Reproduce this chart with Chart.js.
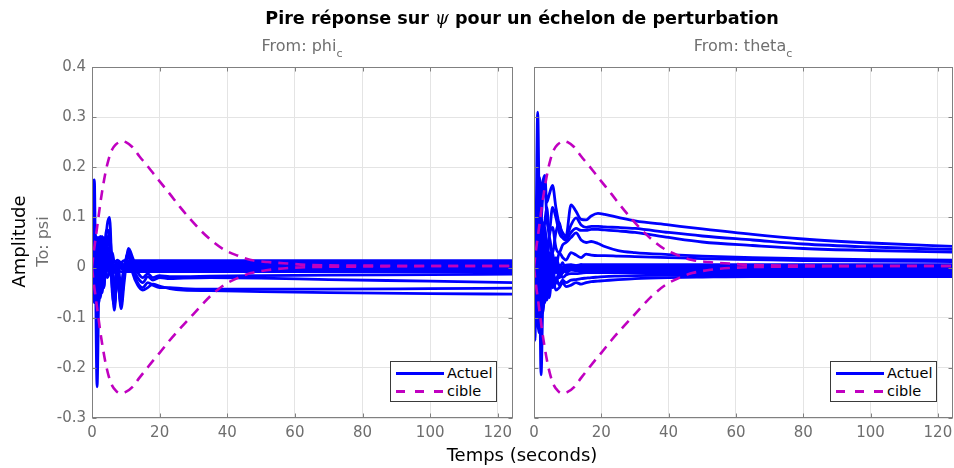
<!DOCTYPE html>
<html>
<head>
<meta charset="utf-8">
<script src="https://cdn.jsdelivr.net/npm/chart.js@4.4.1/dist/chart.umd.min.js"></script>
<style>
  html, body { margin:0; padding:0; background:#fff; }
  body { width:954px; height:468px; position:relative; overflow:hidden; font-family:"DejaVu Sans", sans-serif; }
  canvas { position:absolute; top:0; }
  .txt { position:absolute; white-space:nowrap; }
  .title { top:8px; left:0; width:1044px; text-align:center; font-size:17.6px; font-weight:bold; color:#000; }
  .title i { font-family:"DejaVu Serif", serif; font-weight:normal; }
  .sub { top:36px; font-size:16px; color:#707070; text-align:center; width:300px; }
  .sub sub { font-size:11px; vertical-align:-6px; }
  .ylab { font-size:18px; color:#000; transform:rotate(-90deg); transform-origin:center; }
  .ylab2 { font-size:16px; color:#707070; transform:rotate(-90deg); transform-origin:center; }
  .xlab { top:444px; left:0; width:1044px; text-align:center; font-size:18px; color:#000; }
  .legend { position:absolute; width:105px; height:39px; border:1px solid #3a3a3a; background:#fff; font-size:14.5px; color:#000; }
  .legend .row { position:absolute; left:0; height:18px; }
  .legend .smp { position:absolute; left:5px; width:48px; top:8px; height:3px; }
  .legend .lab { position:absolute; left:56px; top:0; line-height:18px; }
  .solid { background:#0000ff; }
  .dash { background:repeating-linear-gradient(90deg, #c000c0 0 9px, transparent 9px 19px); }
</style>
</head>
<body>
<canvas id="phiChart" width="520" height="468" style="left:0"></canvas>
<canvas id="thetaChart" width="434" height="468" style="left:520px"></canvas>

<div class="txt title">Pire réponse sur <i>ψ</i> pour un échelon de perturbation</div>
<div class="txt sub" style="left:152px">From: phi<sub>c</sub></div>
<div class="txt sub" style="left:593px">From: theta<sub>c</sub></div>
<div class="txt ylab" style="left:-32px; top:231px; width:100px; text-align:center">Amplitude</div>
<div class="txt ylab2" style="left:2px; top:232px; width:80px; text-align:center">To: psi</div>
<div class="txt xlab">Temps (seconds)</div>

<div class="legend" style="left:390px; top:361px">
  <div class="row" style="top:2px"><div class="smp solid"></div><div class="lab">Actuel</div></div>
  <div class="row" style="top:20px"><div class="smp dash"></div><div class="lab">cible</div></div>
</div>
<div class="legend" style="left:830px; top:361px">
  <div class="row" style="top:2px"><div class="smp solid"></div><div class="lab">Actuel</div></div>
  <div class="row" style="top:20px"><div class="smp dash"></div><div class="lab">cible</div></div>
</div>

<script>
// ── axis ranges / ticks ──
const X_MAX = 124.5;
const Y_MIN = -0.3, Y_MAX = 0.4;
const xTicks = [0, 20, 40, 60, 80, 100, 120];
const yTicks = [0.4, 0.3, 0.2, 0.1, 0, -0.1, -0.2, -0.3];

// ── target envelope (cible) ──
const cibleT     = [0, 0.5, 1, 1.5, 2, 2.5, 3, 4, 5, 6, 7, 8, 9, 10, 12, 14, 16, 18, 20, 23, 26, 29, 32, 35, 39, 43, 47, 52, 58, 65, 80, 100, 125];
const cibleUpper = [0, 0.03, 0.055, 0.08, 0.105, 0.13, 0.152, 0.19, 0.218, 0.236, 0.245, 0.25, 0.252, 0.25, 0.24, 0.222, 0.206, 0.189, 0.172, 0.147, 0.121, 0.097, 0.075, 0.056, 0.036, 0.024, 0.015, 0.011, 0.008, 0.005, 0.004, 0.003, 0.003];
const cibleLower = [0, -0.03, -0.055, -0.08, -0.105, -0.13, -0.152, -0.19, -0.218, -0.236, -0.245, -0.25, -0.25, -0.248, -0.238, -0.22, -0.203, -0.186, -0.17, -0.145, -0.122, -0.1, -0.078, -0.057, -0.035, -0.021, -0.011, -0.005, -0.001, 0.001, 0.002, 0.003, 0.003];

// ── From phi_c : time grid + responses ──
const timePhi = [0, 0.3, 0.7, 1, 1.5, 2, 2.5, 3, 3.5, 4, 4.5, 5.2, 6, 6.6, 7.5, 8.6, 9.5, 10.8, 12, 13.5, 15, 16.5, 18, 20, 23, 27, 35, 50, 70, 100, 125];
const phiResponses = [
  [0, 0.14, 0.175, 0.02, -0.238, -0.05, 0.04, 0.01, -0.02, 0.02, 0, -0.01, 0.01, 0, 0.004, 0.002, 0.004, 0.003, 0.003, 0.003, 0.003, 0.003, 0.003, 0.003, 0.003, 0.003, 0.003, 0.003, 0.003, 0.003, 0.003],
  [0, -0.02, -0.05, -0.04, 0.01, 0.05, 0.062, 0.01, -0.04, 0.04, 0.085, 0.1, -0.03, -0.085, -0.01, -0.082, -0.03, 0.038, 0.02, -0.005, 0.008, 0.004, 0.005, 0.005, 0.005, 0.005, 0.005, 0.005, 0.005, 0.005, 0.005],
  [0, -0.03, -0.07, -0.065, -0.02, 0.06, 0.05, 0.02, -0.03, 0.06, 0.075, 0.06, -0.05, -0.075, -0.02, -0.07, -0.015, 0.032, 0.015, 0, 0.01, 0.007, 0.008, 0.008, 0.008, 0.008, 0.008, 0.008, 0.008, 0.008, 0.008],
  [0, 0.02, -0.04, -0.07, -0.05, 0, 0.045, 0.062, 0, -0.02, 0.05, 0.065, 0, -0.045, 0.01, -0.035, 0, 0.025, 0.01, 0, 0.012, 0.01, 0.012, 0.012, 0.012, 0.012, 0.012, 0.012, 0.012, 0.012, 0.012],
  [0, 0.05, 0.02, -0.03, -0.06, -0.02, 0.03, 0.01, -0.02, 0.01, 0.02, 0.01, -0.01, 0, 0.01, 0, 0.005, 0.01, 0.01, 0.01, 0.01, 0.01, 0.01, 0.01, 0.01, 0.01, 0.01, 0.01, 0.01, 0.01, 0.01],
  [0, -0.05, -0.065, -0.03, 0.03, 0.04, 0, -0.03, 0, 0.02, 0.01, -0.01, 0, 0.005, 0, 0, 0, 0, 0, 0, 0, 0, 0, 0, 0, 0, 0, 0, 0, 0, 0],
  [0, 0.03, 0.06, 0.02, -0.04, -0.05, -0.01, 0.03, 0.02, -0.01, 0, 0.01, 0.005, -0.005, 0, -0.002, -0.004, -0.004, -0.004, -0.004, -0.004, -0.004, -0.004, -0.004, -0.004, -0.004, -0.004, -0.004, -0.004, -0.004, -0.004],
  [0, -0.01, 0.03, 0.05, 0, -0.07, -0.03, 0.02, 0.03, 0, -0.02, -0.01, 0, -0.01, -0.005, -0.008, -0.008, -0.008, -0.008, -0.008, -0.008, -0.008, -0.008, -0.008, -0.008, -0.008, -0.008, -0.008, -0.008, -0.008, -0.008],
  [0, 0, 0.05, 0.065, 0.03, -0.03, -0.06, 0, 0.06, 0.04, 0, 0.02, 0.03, 0.01, 0.015, 0.01, 0.014, 0.014, 0.014, 0.014, 0.014, 0.014, 0.014, 0.014, 0.014, 0.014, 0.014, 0.014, 0.014, 0.014, 0.014],
  [0, -0.04, -0.02, 0.03, 0.06, 0.02, -0.04, -0.05, 0, 0.03, 0, 0, 0.01, 0.005, 0.006, 0.006, 0.006, 0.006, 0.006, 0.006, 0.006, 0.006, 0.006, 0.006, 0.006, 0.006, 0.006, 0.006, 0.006, 0.006, 0.006],
  [0, 0, -0.03, -0.05, -0.02, 0.03, 0.02, -0.02, -0.04, 0, 0.03, 0.02, -0.02, -0.03, 0, 0.01, 0, -0.005, 0.005, -0.01, -0.02, -0.012, -0.02, -0.016, -0.018, -0.018, -0.017, -0.016, -0.015, -0.014, -0.013],
  [0, 0.01, -0.02, -0.06, -0.07, -0.02, 0.04, 0.03, -0.01, 0, 0.04, 0.03, -0.04, -0.06, -0.01, -0.04, 0, 0.02, 0, -0.02, -0.03, -0.018, -0.025, -0.02, -0.022, -0.021, -0.02, -0.021, -0.024, -0.027, -0.03],
  [0, -0.02, -0.05, -0.03, 0.02, 0.04, 0, -0.04, -0.02, 0.03, 0.06, 0.05, -0.02, -0.06, -0.005, -0.05, 0, 0.03, -0.005, -0.03, -0.04, -0.03, -0.035, -0.04, -0.04, -0.042, -0.043, -0.043, -0.043, -0.042, -0.041],
  [0, 0.02, 0, -0.04, -0.065, -0.03, 0.03, 0.05, 0, -0.01, 0.04, 0.05, -0.01, -0.07, -0.02, -0.075, -0.01, 0.03, -0.01, -0.035, -0.045, -0.04, -0.033, -0.037, -0.042, -0.045, -0.046, -0.048, -0.05, -0.052, -0.053]
];

// ── From theta_c : time grid + responses ──
const timeTheta = [0, 0.3, 0.7, 1.1, 1.6, 2.1, 2.6, 3.2, 3.8, 4.5, 5.5, 6.5, 7.5, 8.5, 9.5, 11, 12.5, 14, 15.5, 17, 19, 21, 25, 30, 40, 50, 65, 80, 100, 125];
const thetaResponses = [
  [0, -0.145, 0.12, 0.31, 0.06, -0.214, -0.07, 0.08, 0.03, -0.04, 0.02, -0.01, 0.005, 0, -0.004, -0.002, -0.004, -0.004, -0.005, -0.005, -0.005, -0.005, -0.005, -0.005, -0.005, -0.005, -0.005, -0.004, -0.004, -0.004],
  [0, 0.03, 0.1, 0.16, 0.18, 0.14, 0.17, 0.184, 0.13, 0.145, 0.164, 0.12, 0.085, 0.07, 0.062, 0.125, 0.112, 0.096, 0.095, 0.103, 0.108, 0.106, 0.1, 0.093, 0.085, 0.077, 0.066, 0.057, 0.049, 0.042],
  [0, -0.02, 0.05, 0.12, 0.16, 0.1, 0.14, 0.17, 0.1, 0.07, 0.12, 0.1, 0.07, 0.06, 0.06, 0.085, 0.099, 0.085, 0.08, 0.082, 0.082, 0.081, 0.08, 0.078, 0.07, 0.063, 0.055, 0.047, 0.041, 0.036],
  [0, 0.02, -0.04, 0.06, 0.15, 0.12, 0.05, 0.09, 0.12, 0.06, 0.03, 0.07, 0.09, 0.06, 0.055, 0.07, 0.078, 0.074, 0.074, 0.076, 0.076, 0.075, 0.073, 0.07, 0.06, 0.051, 0.044, 0.038, 0.034, 0.031],
  [0, 0.05, 0.1, -0.03, -0.08, 0.02, 0.09, 0.05, 0, 0.06, 0.08, 0.04, 0.03, 0.045, 0.05, 0.06, 0.069, 0.055, 0.05, 0.052, 0.048, 0.042, 0.034, 0.03, 0.026, 0.023, 0.02, 0.018, 0.016, 0.015],
  [0, -0.05, -0.1, -0.04, 0.05, 0.08, 0.02, -0.03, 0.03, 0.06, 0.02, 0, 0.03, 0.02, 0.015, 0.03, 0.025, 0.02, 0.027, 0.025, 0.024, 0.024, 0.023, 0.022, 0.02, 0.018, 0.016, 0.014, 0.013, 0.012],
  [0, 0.04, 0.08, 0, -0.1, -0.06, 0.04, 0.06, 0, -0.04, -0.01, 0.02, 0, -0.01, 0.005, 0.006, 0.004, 0.006, 0.006, 0.006, 0.006, 0.006, 0.006, 0.006, 0.006, 0.006, 0.006, 0.006, 0.006, 0.006],
  [0, -0.03, -0.09, -0.12, -0.05, 0.05, 0.08, 0.02, -0.05, -0.03, 0.02, 0.01, -0.02, -0.01, 0, 0.002, 0.002, 0.002, 0.002, 0.002, 0.002, 0.002, 0.002, 0.002, 0.002, 0.002, 0.002, 0.002, 0.002, 0.002],
  [0, 0.02, 0.05, 0.09, 0.1, 0.03, -0.06, -0.07, -0.01, 0.03, 0, -0.03, -0.01, 0, -0.01, -0.005, -0.006, -0.006, -0.006, -0.006, -0.006, -0.006, -0.006, -0.006, -0.006, -0.006, -0.006, -0.006, -0.006, -0.006],
  [0, -0.06, -0.02, 0.05, 0.03, -0.05, -0.09, -0.04, 0.03, 0.01, -0.04, -0.03, -0.01, -0.02, -0.015, -0.012, -0.012, -0.011, -0.01, -0.01, -0.01, -0.01, -0.01, -0.01, -0.01, -0.01, -0.01, -0.01, -0.01, -0.01],
  [0, 0.01, 0.03, -0.05, -0.09, -0.02, 0.03, -0.02, -0.065, -0.04, -0.02, -0.045, -0.04, -0.03, -0.038, -0.035, -0.03, -0.033, -0.03, -0.028, -0.027, -0.026, -0.024, -0.022, -0.02, -0.019, -0.018, -0.018, -0.018, -0.018],
  [0, -0.02, -0.06, -0.08, -0.02, 0.04, 0.01, -0.05, -0.03, 0.01, -0.03, -0.02, -0.035, -0.025, -0.03, -0.025, -0.024, -0.022, -0.021, -0.02, -0.019, -0.018, -0.017, -0.016, -0.015, -0.014, -0.014, -0.014, -0.014, -0.014],
  [0, 0.03, -0.02, -0.1, -0.13, -0.04, 0.06, 0.04, -0.02, -0.06, 0, 0.01, -0.02, 0, -0.005, -0.002, -0.002, -0.002, -0.002, -0.002, -0.002, -0.002, -0.002, -0.002, -0.002, -0.002, -0.002, -0.002, -0.002, -0.002],
  [0, 0, 0.04, 0.12, 0.08, -0.05, -0.08, 0, 0.05, 0, -0.03, 0.01, 0, -0.01, 0, 0.003, 0.004, 0.004, 0.004, 0.004, 0.004, 0.004, 0.004, 0.004, 0.004, 0.004, 0.004, 0.004, 0.004, 0.004],
  [0, 0.02, 0.06, 0.02, -0.04, 0.02, 0.05, -0.02, -0.04, 0.02, 0.03, -0.01, -0.005, 0.01, -0.005, 0.005, 0, 0.006, -0.002, 0.004, 0, 0, 0, 0, 0, 0, 0, 0, 0, 0]
];

const BLUE = '#0000ff', MAGENTA = '#c000c0';
const GRID = '#e4e4e4', AXIS = '#808080', TICK_TXT = '#6e6e6e';

function toPoints(ts, ys) { return ts.map((t, i) => ({ x: t, y: ys[i] })); }

// box round the plot + inward ticks on all four sides (matlab style)
const boxPlugin = {
    id: 'box',
    afterDatasetsDraw(chart) {
        const { ctx, chartArea: a, scales } = chart;
        const l = Math.round(a.left) + 0.5, r = Math.round(a.right) - 0.5;
        const t = Math.round(a.top) + 0.5, b = Math.round(a.bottom) - 0.5;
        ctx.save();
        ctx.strokeStyle = AXIS; ctx.lineWidth = 1;
        ctx.strokeRect(l, t, r - l, b - t);
        ctx.beginPath();
        xTicks.forEach(v => {
            const px = Math.round(scales.x.getPixelForValue(v)) + 0.5;
            ctx.moveTo(px, b); ctx.lineTo(px, b - 4);
            ctx.moveTo(px, t); ctx.lineTo(px, t + 4);
        });
        yTicks.forEach(v => {
            const py = Math.round(scales.y.getPixelForValue(v)) + 0.5;
            ctx.moveTo(l, py); ctx.lineTo(l + 4, py);
            ctx.moveTo(r, py); ctx.lineTo(r - 4, py);
        });
        ctx.stroke();
        ctx.restore();
    }
};

function buildDatasets(time, responses) {
    const sets = [
        { data: toPoints(cibleT, cibleUpper), borderColor: MAGENTA, borderWidth: 2.6, borderDash: [10, 7], order: 0 },
        { data: toPoints(cibleT, cibleLower), borderColor: MAGENTA, borderWidth: 2.6, borderDash: [10, 7], order: 0 }
    ];
    responses.forEach(ys => sets.push({ data: toPoints(time, ys), borderColor: BLUE, borderWidth: 2.8, order: 1 }));
    return sets;
}

function makeChart(id, time, responses, yWidth, padRight, showYLabels) {
    return new Chart(document.getElementById(id).getContext('2d'), {
        type: 'line',
        data: { datasets: buildDatasets(time, responses) },
        plugins: [boxPlugin],
        options: {
            responsive: false, animation: false, devicePixelRatio: 1,
            layout: { padding: { top: 67, right: padRight, bottom: 0, left: 0 } },
            elements: { point: { radius: 0 }, line: { cubicInterpolationMode: 'monotone', fill: false } },
            plugins: { legend: { display: false }, tooltip: { enabled: false } },
            scales: {
                x: {
                    type: 'linear', min: 0, max: X_MAX,
                    // fixed height, and no extra room asked for the end labels
                    afterFit: (s) => { s.height = 50; s.paddingLeft = 0; s.paddingRight = 0; },
                    afterBuildTicks: (s) => { s.ticks = xTicks.map(v => ({ value: v })); },
                    border: { display: false },
                    grid: { color: GRID, drawTicks: false },
                    ticks: { color: TICK_TXT, padding: 6, maxRotation: 0, autoSkip: false,
                             font: { family: 'DejaVu Sans', size: 15 } }
                },
                y: {
                    type: 'linear', min: Y_MIN, max: Y_MAX,
                    afterFit: (s) => { s.width = yWidth; s.paddingTop = 0; s.paddingBottom = 0; },
                    afterBuildTicks: (s) => { s.ticks = yTicks.map(v => ({ value: v })); },
                    border: { display: false },
                    grid: { color: GRID, drawTicks: false },
                    ticks: { display: showYLabels, color: TICK_TXT, padding: 6,
                             font: { family: 'DejaVu Sans', size: 15 },
                             callback: (v) => Math.abs(v) < 1e-9 ? '0' : v.toFixed(1) }
                }
            }
        }
    });
}

makeChart('phiChart', timePhi, phiResponses, 92, 7, true);
makeChart('thetaChart', timeTheta, thetaResponses, 14, 1, false);
</script>
</body>
</html>
